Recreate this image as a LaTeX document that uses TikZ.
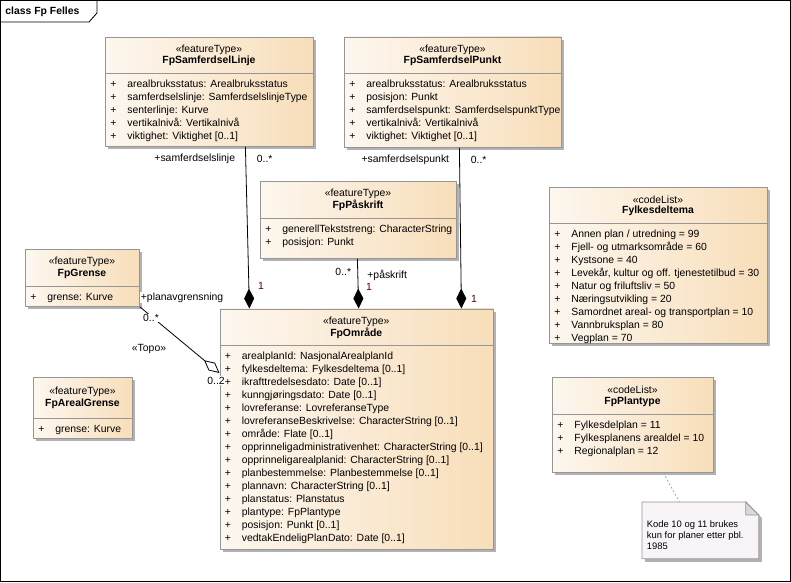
\documentclass[tikz,border=0pt]{standalone}
\usepackage{fontspec}
\setmainfont{Liberation Sans}
\usetikzlibrary{arrows.meta,shadows}

\definecolor{boxleft}{RGB}{253,247,239}
\definecolor{boxright}{RGB}{248,222,186}
\definecolor{boxline}{RGB}{150,150,150}
\definecolor{notefill}{RGB}{248,244,248}
\definecolor{multred}{RGB}{100,0,0}

% #1 name, #2/#3 top left, #4 width, #5 height, #6 header height,
% #7 stereotype, #8 class name, #9 attributes
\newcommand{\umlclass}[9]{%
  \node[classbox, minimum width=#4pt, minimum height=#5pt] (#1) at (#2,#3) {};
  \node[stereo] (#1-st) at ({#2+#4/2},{#3+#6/2-5.5}) {«#7»};
  \node[classname] (#1-name) at ({#2+#4/2},{#3+#6/2+6}) {#8};
  \draw[sepline] (#2,#3+#6) -- (#2+#4,#3+#6);
  \foreach \a [count=\i] in {#9}
    \node[attr] (#1-\i) at (#2+5,#3+#6+1+13*\i) {\makebox[17pt][l]{+}\a};
}

\begin{document}
\begin{tikzpicture}[x=1pt,y=-1pt,line width=0.8pt,
    classbox/.style={draw=boxline, left color=boxleft, right color=boxright,
      anchor=north west, inner sep=0pt,
      drop shadow={shadow xshift=3pt, shadow yshift=-3pt, fill=black!30, opacity=1}},
    sepline/.style={draw=boxline},
    stereo/.style={font=\fontsize{10.4}{13}\selectfont, inner sep=0pt},
    classname/.style={font=\fontsize{10.4}{13}\selectfont\bfseries, inner sep=0pt},
    attr/.style={font=\fontsize{10.4}{13}\selectfont, anchor=base west, inner sep=0pt},
    comp/.style={draw=black, -{Diamond[length=20pt,width=10pt]}},
    aggr/.style={draw=black, -{Diamond[open,fill=white,length=20pt,width=10pt]}},
    role/.style={font=\fontsize{10.4}{13}\selectfont, fill=white, inner sep=0.5pt},
    mult/.style={role, text=multred},
    notelink/.style={draw=black!35, dash pattern=on 2pt off 2pt}]
    \useasboundingbox (0,0) rectangle (791,582);

    % frame
    \draw (0.5,0.5) rectangle (790.5,581.5);
    \draw (0.5,22) -- (89,22) -- (97,13) -- (97,0.5);
    \node[classname, anchor=west] (frame) at (5,11.5) {class Fp Felles};

    % classes
    \umlclass{linje}{105}{37}{208}{109}{36}{featureType}{FpSamferdselLinje}{
      arealbruksstatus: Arealbruksstatus,
      samferdselslinje: SamferdselslinjeType,
      senterlinje: Kurve,
      vertikalnivå: Vertikalnivå,
      viktighet: Viktighet [0..1]}
    \umlclass{punkt}{344}{36.5}{217}{110.5}{37}{featureType}{FpSamferdselPunkt}{
      arealbruksstatus: Arealbruksstatus,
      posisjon: Punkt,
      samferdselspunkt: SamferdselspunktType,
      vertikalnivå: Vertikalnivå,
      viktighet: Viktighet [0..1]}
    \umlclass{paskrift}{260}{181}{196}{77}{37}{featureType}{FpPåskrift}{
      generellTekststreng: CharacterString,
      posisjon: Punkt}
    \umlclass{grense}{25}{249}{114}{57}{37}{featureType}{FpGrense}{
      grense: Kurve}
    \umlclass{arealgrense}{33}{377}{99}{61}{41}{featureType}{FpArealGrense}{
      grense: Kurve}
    \umlclass{omrade}{219.5}{308.5}{273.5}{240.5}{37}{featureType}{FpOmråde}{
      arealplanId: NasjonalArealplanId,
      fylkesdeltema: Fylkesdeltema [0..1],
      ikrafttredelsesdato: Date [0..1],
      kunngjøringsdato: Date [0..1],
      lovreferanse: LovreferanseType,
      lovreferanseBeskrivelse: CharacterString [0..1],
      område: Flate [0..1],
      opprinneligadministrativenhet: CharacterString [0..1],
      opprinneligarealplanid: CharacterString [0..1],
      planbestemmelse: Planbestemmelse [0..1],
      plannavn: CharacterString [0..1],
      planstatus: Planstatus,
      plantype: FpPlantype,
      posisjon: Punkt [0..1],
      vedtakEndeligPlanDato: Date [0..1]}
    \umlclass{fylkesdeltema}{549}{187}{218}{156}{36.5}{codeList}{Fylkesdeltema}{
      {Annen plan / utredning = 99},
      Fjell- og utmarksområde = 60,
      Kystsone = 40,
      {Levekår, kultur og off. tjenestetilbud = 30},
      Natur og friluftsliv = 50,
      Næringsutvikling = 20,
      Samordnet areal- og transportplan = 10,
      Vannbruksplan = 80,
      Vegplan = 70}
    \umlclass{plantype}{552}{377}{161}{95}{37}{codeList}{FpPlantype}{
      Fylkesdelplan = 11,
      Fylkesplanens arealdel = 10,
      Regionalplan = 12}

    % note
    \node[minimum width=116pt, minimum height=56pt, anchor=north west, inner sep=0pt] (note) at (642,502) {};
    \filldraw[draw=boxline, fill=notefill,
      drop shadow={shadow xshift=3pt, shadow yshift=-3pt, fill=black!30, opacity=1}]
      (note.north west) -- ([xshift=-13pt]note.north east) -- ([yshift=-13pt]note.north east)
      -- (note.south east) -- (note.south west) -- cycle;
    \filldraw[draw=boxline, fill=black!15] ([xshift=-13pt]note.north east)
      -- ([xshift=-13pt,yshift=-13pt]note.north east) -- ([yshift=-13pt]note.north east) -- cycle;
    \node[font=\fontsize{9.4}{11}\selectfont, align=left, anchor=north west, inner sep=0pt] (notetext)
      at (646.5,520) {Kode 10 og 11 brukes\\kun for planer etter pbl.\\1985};
    \draw[notelink] ([xshift=30.5pt]plantype.south) -- ([xshift=-21pt]note.north);

    % associations
    \draw[comp] ([xshift=36pt]linje.south) -- ([xshift=-107.25pt]omrade.north);
    \draw[comp] ([xshift=6.5pt]punkt.south) -- ([xshift=104.75pt]omrade.north);
    \draw[comp] ([xshift=-1pt]paskrift.south) -- ([xshift=2pt]omrade.north);
    \draw[aggr] (grense.south east) -- ([yshift=-64.5pt]omrade.north west);

    % roles and multiplicities
    \node[role, anchor=east] (linje-role) at (236,159) {+samferdselslinje};
    \node[role, anchor=west] (linje-m) at (256,159) {0..*};
    \node[mult] (linje-m1) at (261,286) {1};
    \node[role, anchor=east] (punkt-role) at (450,160) {+samferdselspunkt};
    \node[role, anchor=west] (punkt-m) at (470,160) {0..*};
    \node[mult] (punkt-m1) at (474,299) {1};
    \node[role, anchor=east] (paskrift-m) at (352,272) {0..*};
    \node[role, anchor=west] (paskrift-role) at (366.5,275) {+påskrift};
    \node[mult] (paskrift-m1) at (369,287) {1};
    \node[role, anchor=west] (grense-role) at (140,297.5) {+planavgrensning};
    \node[role] (grense-m) at (151,318) {0..*};
    \node[role] (grense-st) at (149,348.5) {«Topo»};
    \node[role] (grense-m2) at (216,380.5) {0..2};
\end{tikzpicture}
\end{document}
